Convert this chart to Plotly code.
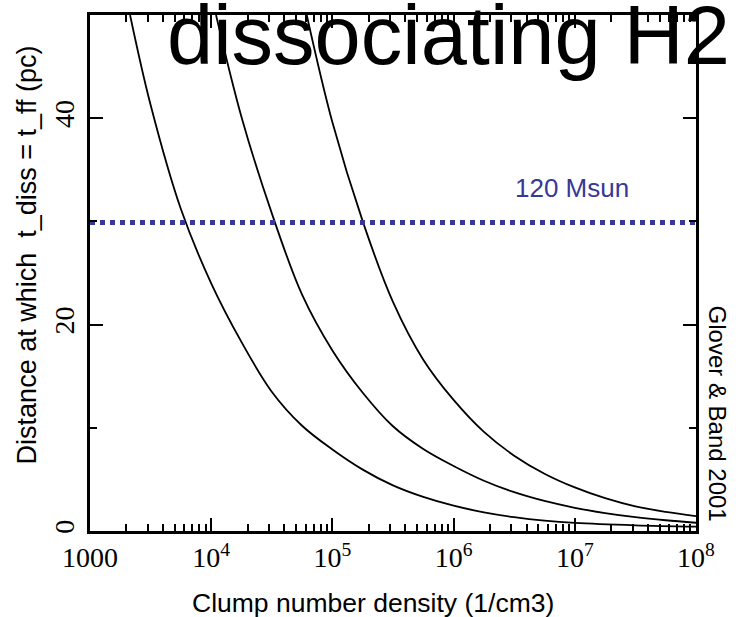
import plotly.graph_objects as go

# ---- data ----
curve1_n = [2140, 3160, 5620, 1.0e4, 1.78e4, 3.16e4, 5.62e4, 1.0e5, 1.78e5, 3.16e5, 5.62e5,
            1.0e6, 1.78e6, 3.16e6, 5.62e6, 1.0e7, 3.16e7, 1.0e8]
curve1_y = [50, 41.3, 31.2, 24.0, 18.3, 13.5, 10.2, 7.9, 5.95, 4.42, 3.3,
            2.45, 1.81, 1.34, 1.0, 0.78, 0.55, 0.42]

curve2_n = [10960, 1.78e4, 3.16e4, 5.62e4, 1.0e5, 1.78e5, 3.16e5, 5.62e5, 1.0e6, 1.78e6,
            3.16e6, 5.62e6, 1.0e7, 1.78e7, 3.16e7, 5.62e7, 1.0e8]
curve2_y = [50, 40.1, 30.8, 22.9, 17.5, 13.4, 10.15, 7.95, 6.3, 4.87,
            3.76, 2.91, 2.25, 1.74, 1.34, 1.04, 0.8]

curve3_n = [61400, 1.0e5, 1.78e5, 3.16e5, 5.62e5, 1.0e6, 1.78e6, 3.16e6, 5.62e6, 1.0e7,
            1.78e7, 3.16e7, 5.62e7, 1.0e8]
curve3_y = [50, 39.6, 30.0, 22.2, 16.6, 12.7, 9.6, 7.3, 5.55, 4.22,
            3.18, 2.39, 1.86, 1.45]

msun_line_x = [1e3, 1e8]
msun_line_y = [29.9, 29.9]

x_tickvals = [1e3, 1e4, 1e5, 1e6, 1e7, 1e8]
x_ticktext = ["1000", "10<sup>4</sup>", "10<sup>5</sup>", "10<sup>6</sup>", "10<sup>7</sup>", "10<sup>8</sup>"]
x_minor = [k * 10 ** d for d in range(3, 8) for k in range(2, 10)]
y_tickvals = [0, 20, 40]
y_ticktext = ["0", "20", "40"]
y_minor = [10, 30, 50]

BLUE = "#383897"
fig = go.Figure()
for n, y in [(curve1_n, curve1_y), (curve2_n, curve2_y), (curve3_n, curve3_y)]:
    fig.add_trace(go.Scatter(x=n, y=y, mode="lines",
                             line=dict(color="black", width=1.8, shape="spline", smoothing=1.0),
                             showlegend=False, hoverinfo="skip"))
fig.add_trace(go.Scatter(x=msun_line_x, y=msun_line_y, mode="lines",
                         line=dict(color=BLUE, width=5, dash="dot"),
                         showlegend=False, hoverinfo="skip"))

tickfont = dict(family="Liberation Serif", size=28, color="black")
axis_common = dict(showgrid=False, zeroline=False, showline=True, linecolor="black", linewidth=2.5,
                   mirror="allticks", ticks="inside", tickcolor="black", tickwidth=2, ticklen=13,
                   tickfont=tickfont)
fig.update_xaxes(type="log", range=[3, 8], tickmode="array", tickvals=x_tickvals, ticktext=x_ticktext,
                 minor=dict(tickmode="array", tickvals=x_minor, ticks="inside", ticklen=7,
                            tickcolor="black", tickwidth=2, showgrid=False),
                 **axis_common)
fig.update_yaxes(range=[0, 50], tickmode="array", tickvals=y_tickvals, ticktext=y_ticktext, tickangle=-90,
                 ticklabelstandoff=2,
                 minor=dict(tickmode="array", tickvals=y_minor, ticks="inside", ticklen=7,
                            tickcolor="black", tickwidth=2, showgrid=False),
                 **axis_common)

sans = "Liberation Sans"
annotations = [
    dict(text="dissociating H2", x=0.591, y=0.961, xref="paper", yref="paper", xanchor="center",
         yanchor="middle", showarrow=False, font=dict(family=sans, size=83, color="black")),
    dict(text="120 Msun", x=0.795, y=0.664, xref="paper", yref="paper", xanchor="center",
         yanchor="middle", showarrow=False, font=dict(family=sans, size=26, color=BLUE)),
    dict(text="Clump number density (1/cm3)", x=0.467, y=-0.139, xref="paper", yref="paper",
         xanchor="center", yanchor="middle", showarrow=False, font=dict(family=sans, size=26.5, color="black")),
    dict(text="Distance at which&nbsp; t_diss = t_ff (pc)", x=-0.104, y=0.536, xref="paper", yref="paper",
         xanchor="center", yanchor="middle", textangle=-90, showarrow=False,
         font=dict(family=sans, size=27, color="black")),
    dict(text="Glover & Band 2001", x=1.036, y=0.228, xref="paper", yref="paper",
         xanchor="center", yanchor="middle", textangle=90, showarrow=False,
         font=dict(family=sans, size=24, color="black")),
]
fig.update_layout(width=736, height=617, margin=dict(l=90, r=40, t=13, b=86),
                  paper_bgcolor="white", plot_bgcolor="white", annotations=annotations)
fig.write_html("out.html", config={"displayModeBar": False},
               post_script="document.body.style.margin='0';")
